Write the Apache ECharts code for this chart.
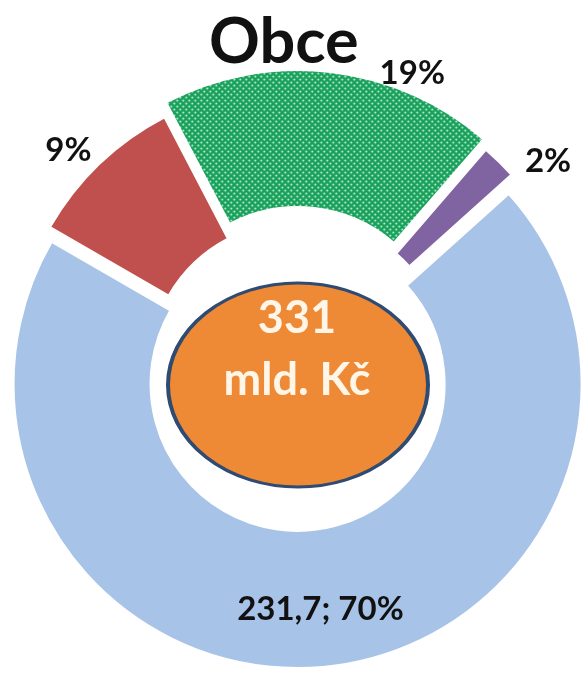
<!DOCTYPE html>
<html>
<head>
<meta charset="utf-8">
<script src="https://cdn.jsdelivr.net/npm/echarts@6/dist/echarts.min.js"></script>
<style>
  html, body { margin: 0; padding: 0; background: #fff; }
  #chart { width: 584px; height: 675px; }
</style>
</head>
<body>
<div id="chart"></div>
<script>
// data (mld. Kč)
const categories = ['část A', 'část B', 'část C', 'část D']
const values = [29.8, 62.9, 6.6, 231.7]
const colors = ['#C0504D', null, '#8064A2', '#A8C3E8']
// how far each slice is pulled out of the ring (px)
const explode = [0, 15, 6, 15]
// small nudges of the percentage labels
const labelShift = [[4, -6], [43, 11], [14, 7], [0, 8]]

const chart = echarts.init(document.getElementById('chart'))

// dotted green fill like the Excel pattern
const makeDots = () => {
  const c = document.createElement('canvas')
  c.width = 6
  c.height = 6
  const g = c.getContext('2d')
  g.fillStyle = '#17A05A'
  g.fillRect(0, 0, 6, 6)
  g.fillStyle = 'rgba(225,255,235,0.95)'
  g.beginPath(); g.arc(1.5, 1.5, 1, 0, Math.PI * 2); g.fill()
  g.beginPath(); g.arc(4.5, 4.5, 1, 0, Math.PI * 2); g.fill()
  return c
}
const dots = makeDots()

const total = values.reduce((a, b) => a + b, 0)
const fmtNum = v => String(v).replace('.', ',')

const cx = 296, cy = 369

// one pie per slice so every slice can have its own explosion
const series = categories.map((_, k) => ({
  type: 'pie',
  center: [cx, cy],
  radius: [147, 284],
  startAngle: 150,
  clockwise: true,
  avoidLabelOverlap: false,
  selectedMode: 'multiple',
  selectedOffset: explode[k],
  emphasis: { disabled: true },
  label: {
    position: k === 3 ? 'inside' : 'outside',
    fontFamily: 'Lato',
    fontWeight: 'bold',
    fontSize: 33,
    color: '#111',
    formatter: p => k === 3
      ? fmtNum(p.value) + '; ' + Math.round(p.percent) + '%'
      : Math.round(p.percent) + '%'
  },
  labelLine: { show: false, length: 10, length2: 0 },
  labelLayout: () => ({ dx: labelShift[k][0], dy: labelShift[k][1] }),
  data: categories.map((name, i) => i === k
    ? {
        name,
        value: values[i],
        selected: explode[i] > 0,
        itemStyle: {
          color: colors[i] || { image: dots, repeat: 'repeat' },
          borderColor: '#fff',
          borderWidth: 2
        }
      }
    : {
        name,
        value: values[i],
        itemStyle: { color: 'transparent', borderWidth: 0 },
        label: { show: false }
      })
}))

const option = {
  title: {
    text: 'Obce',
    left: 204,
    top: 6,
    textStyle: { fontFamily: 'Lato', fontWeight: 'bold', fontSize: 63, color: '#111' }
  },
  graphic: [
    {
      type: 'circle',
      x: 298, y: 385,
      scaleY: 0.785,
      shape: { cx: 0, cy: 0, r: 130 },
      style: { fill: '#EE8A35', stroke: '#2F4B72', lineWidth: 4, strokeNoScale: true },
      z: 10
    },
    {
      type: 'text',
      x: 297, y: 349,
      style: {
        text: Math.round(total) + '\nmld. Kč',
        fill: '#FFF6E8',
        font: 'bold 45px Lato',
        lineHeight: 62,
        align: 'center',
        verticalAlign: 'middle'
      },
      z: 11
    }
  ],
  series
}

chart.setOption(option)
window.addEventListener('resize', () => chart.resize())
</script>
</body>
</html>
